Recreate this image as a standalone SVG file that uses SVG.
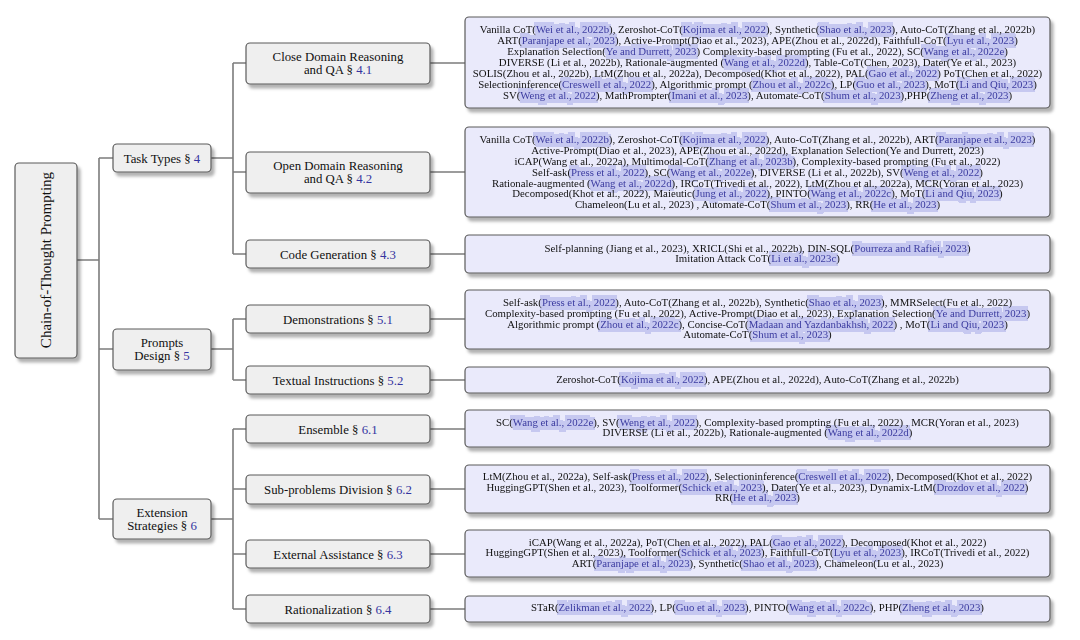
<svg xmlns="http://www.w3.org/2000/svg" width="1080" height="640" viewBox="0 0 1080 640">
<style>
.lv{fill:#efefef;stroke:#5a5a5a;stroke-width:1.2}
.lf{fill:#eaeafb;stroke:#5a5a5a;stroke-width:1.2}
.cn{stroke:#7c7c7c;stroke-width:1.6;fill:none}
.t{font-family:"Liberation Serif","Times New Roman",serif;fill:#111;text-anchor:middle}
.t0{font-size:15px}
.t1{font-size:12.8px}
.t2{font-size:12.8px}
.tl{font-size:10.8px}
.n{fill:#3434a0}
.c{fill:#3c3ca0}
</style>
<defs>
<filter id="sh" x="-10%" y="-10%" width="130%" height="140%">
<feDropShadow dx="3" dy="4" stdDeviation="1.4" flood-color="#000" flood-opacity="0.3"/>
</filter>
<filter id="hl" filterUnits="userSpaceOnUse" x="0" y="0" width="1080" height="640" color-interpolation-filters="sRGB">
<feColorMatrix in="SourceGraphic" type="matrix" values="0 0 0 0 0 0 0 0 0 0 0 0 0 0 0 -6 0 6 0 0" result="m"/>
<feMorphology in="m" operator="dilate" radius="2 3.5" result="d"/>
<feFlood flood-color="#c6c8f0"/>
<feComposite in2="d" operator="in" result="bg"/>
<feMerge><feMergeNode in="bg"/><feMergeNode in="SourceGraphic"/></feMerge>
</filter>
</defs>
<rect width="1080" height="640" fill="#fff"/>

<g id="connectors">
<path class="cn" d="M77 260H99M99 158V519M99 158H113M99 349H113M99 519H113"/>
<path class="cn" d="M211 158H233M233 63V254M233 63H246M233 172H246M233 254H246"/>
<path class="cn" d="M211 349H233M233 319V380M233 319H246M233 380H246"/>
<path class="cn" d="M211 519H233M233 429V609M233 429H246M233 489H246M233 554H246M233 609H246"/>
<path class="cn" d="M430 63H465M430 172H465M430 254H465M430 319H465M430 380H465M430 429H465M430 489H465M430 554H465M430 609H465"/>
</g>

<g id="root">
<rect class="lv" x="15" y="163" width="62" height="195" rx="4" filter="url(#sh)"/>
<text class="t t0" transform="translate(51,260) rotate(-90)" x="0" y="0">Chain-of-Thought Prompting</text>
</g>

<g id="task-types">
<rect class="lv" x="113" y="144" width="98" height="28" rx="4" filter="url(#sh)"/>
<text class="t t1" x="162" y="162.5">Task Types § <tspan class="n">4</tspan></text>
</g>
<g id="prompts-design">
<rect class="lv" x="113" y="329" width="98" height="41" rx="4" filter="url(#sh)"/>
<text class="t t1" x="162" y="346.5">Prompts</text>
<text class="t t1" x="162" y="359.5">Design § <tspan class="n">5</tspan></text>
</g>
<g id="extension-strategies">
<rect class="lv" x="113" y="499" width="98" height="40" rx="4" filter="url(#sh)"/>
<text class="t t1" x="162" y="516.5">Extension</text>
<text class="t t1" x="162" y="529.5">Strategies § <tspan class="n">6</tspan></text>
</g>

<g id="close-domain">
<rect class="lv" x="246" y="43" width="184" height="41" rx="4" filter="url(#sh)"/>
<text class="t t2" x="338" y="60.5">Close Domain Reasoning</text>
<text class="t t2" x="338" y="73.5">and QA § <tspan class="n">4.1</tspan></text>
</g>
<g id="open-domain">
<rect class="lv" x="246" y="152" width="184" height="41" rx="4" filter="url(#sh)"/>
<text class="t t2" x="338" y="169.5">Open Domain Reasoning</text>
<text class="t t2" x="338" y="182.5">and QA § <tspan class="n">4.2</tspan></text>
</g>
<g id="code-generation">
<rect class="lv" x="246" y="240" width="184" height="28" rx="4" filter="url(#sh)"/>
<text class="t t2" x="338" y="258.5">Code Generation § <tspan class="n">4.3</tspan></text>
</g>
<g id="demonstrations">
<rect class="lv" x="246" y="305" width="184" height="28" rx="4" filter="url(#sh)"/>
<text class="t t2" x="338" y="323.5">Demonstrations § <tspan class="n">5.1</tspan></text>
</g>
<g id="textual-instructions">
<rect class="lv" x="246" y="366" width="184" height="28" rx="4" filter="url(#sh)"/>
<text class="t t2" x="338" y="384.5">Textual Instructions § <tspan class="n">5.2</tspan></text>
</g>
<g id="ensemble">
<rect class="lv" x="246" y="415" width="184" height="28" rx="4" filter="url(#sh)"/>
<text class="t t2" x="338" y="433.5">Ensemble § <tspan class="n">6.1</tspan></text>
</g>
<g id="sub-problems">
<rect class="lv" x="246" y="475" width="184" height="29" rx="4" filter="url(#sh)"/>
<text class="t t2" x="338" y="493.5">Sub-problems Division § <tspan class="n">6.2</tspan></text>
</g>
<g id="external-assistance">
<rect class="lv" x="246" y="540" width="184" height="28" rx="4" filter="url(#sh)"/>
<text class="t t2" x="338" y="558.5">External Assistance § <tspan class="n">6.3</tspan></text>
</g>
<g id="rationalization">
<rect class="lv" x="246" y="595" width="184" height="28" rx="4" filter="url(#sh)"/>
<text class="t t2" x="338" y="613.5">Rationalization § <tspan class="n">6.4</tspan></text>
</g>

<g id="leaf-close-domain">
<rect class="lf" x="465" y="17" width="585" height="91" rx="4" filter="url(#sh)"/>
<g filter="url(#hl)">
<text class="t tl" x="757.5" y="33.4">Vanilla CoT(<tspan class="c">Wei et al., 2022b</tspan>), Zeroshot-CoT(<tspan class="c">Kojima et al., 2022</tspan>), Synthetic(<tspan class="c">Shao et al., 2023</tspan>), Auto-CoT(Zhang et al., 2022b)</text>
<text class="t tl" x="757.5" y="44.3">ART(<tspan class="c">Paranjape et al., 2023</tspan>), Active-Prompt(Diao et al., 2023), APE(Zhou et al., 2022d), Faithfull-CoT(<tspan class="c">Lyu et al., 2023</tspan>)</text>
<text class="t tl" x="757.5" y="55.2">Explanation Selection(<tspan class="c">Ye and Durrett, 2023</tspan>) Complexity-based prompting (Fu et al., 2022), SC(<tspan class="c">Wang et al., 2022e</tspan>)</text>
<text class="t tl" x="757.5" y="66.1">DIVERSE (Li et al., 2022b), Rationale-augmented (<tspan class="c">Wang et al., 2022d</tspan>), Table-CoT(Chen, 2023), Dater(Ye et al., 2023)</text>
<text class="t tl" x="757.5" y="77">SOLIS(Zhou et al., 2022b), LtM(Zhou et al., 2022a), Decomposed(Khot et al., 2022), PAL(<tspan class="c">Gao et al., 2022</tspan>) PoT(Chen et al., 2022)</text>
<text class="t tl" x="757.5" y="87.9">Selectioninference(<tspan class="c">Creswell et al., 2022</tspan>), Algorithmic prompt (<tspan class="c">Zhou et al., 2022c</tspan>), LP(<tspan class="c">Guo et al., 2023</tspan>), MoT(<tspan class="c">Li and Qiu, 2023</tspan>)</text>
<text class="t tl" x="757.5" y="98.8">SV(<tspan class="c">Weng et al., 2022</tspan>), MathPrompter(<tspan class="c">Imani et al., 2023</tspan>), Automate-CoT(<tspan class="c">Shum et al., 2023</tspan>),PHP(<tspan class="c">Zheng et al., 2023</tspan>)</text>
</g>
</g>

<g id="leaf-open-domain">
<rect class="lf" x="465" y="127" width="585" height="90" rx="4" filter="url(#sh)"/>
<g filter="url(#hl)">
<text class="t tl" x="757.5" y="142.9">Vanilla CoT(<tspan class="c">Wei et al., 2022b</tspan>), Zeroshot-CoT(<tspan class="c">Kojima et al., 2022</tspan>), Auto-CoT(Zhang et al., 2022b), ART(<tspan class="c">Paranjape et al., 2023</tspan>)</text>
<text class="t tl" x="757.5" y="153.8">Active-Prompt(Diao et al., 2023), APE(Zhou et al., 2022d), Explanation Selection(Ye and Durrett, 2023)</text>
<text class="t tl" x="757.5" y="164.7">iCAP(Wang et al., 2022a), Multimodal-CoT(<tspan class="c">Zhang et al., 2023b</tspan>), Complexity-based prompting (Fu et al., 2022)</text>
<text class="t tl" x="757.5" y="175.6">Self-ask(<tspan class="c">Press et al., 2022</tspan>), SC(<tspan class="c">Wang et al., 2022e</tspan>), DIVERSE (Li et al., 2022b), SV(<tspan class="c">Weng et al., 2022</tspan>)</text>
<text class="t tl" x="757.5" y="186.5">Rationale-augmented (<tspan class="c">Wang et al., 2022d</tspan>), IRCoT(Trivedi et al., 2022), LtM(Zhou et al., 2022a), MCR(Yoran et al., 2023)</text>
<text class="t tl" x="757.5" y="197.4">Decomposed(Khot et al., 2022), Maieutic(<tspan class="c">Jung et al., 2022</tspan>), PINTO(<tspan class="c">Wang et al., 2022c</tspan>), MoT(<tspan class="c">Li and Qiu, 2023</tspan>)</text>
<text class="t tl" x="757.5" y="208.3">Chameleon(Lu et al., 2023) , Automate-CoT(<tspan class="c">Shum et al., 2023</tspan>), RR(<tspan class="c">He et al., 2023</tspan>)</text>
</g>
</g>

<g id="leaf-code-generation">
<rect class="lf" x="465" y="235" width="585" height="38" rx="4" filter="url(#sh)"/>
<g filter="url(#hl)">
<text class="t tl" x="757.5" y="251.5">Self-planning (Jiang et al., 2023), XRICL(Shi et al., 2022b), DIN-SQL(<tspan class="c">Pourreza and Rafiei, 2023</tspan>)</text>
<text class="t tl" x="757.5" y="262.3">Imitation Attack CoT(<tspan class="c">Li et al., 2023c</tspan>)</text>
</g>
</g>

<g id="leaf-demonstrations">
<rect class="lf" x="465" y="290" width="585" height="59" rx="4" filter="url(#sh)"/>
<g filter="url(#hl)">
<text class="t tl" x="757.5" y="306">Self-ask(<tspan class="c">Press et al., 2022</tspan>), Auto-CoT(Zhang et al., 2022b), Synthetic(<tspan class="c">Shao et al., 2023</tspan>), MMRSelect(Fu et al., 2022)</text>
<text class="t tl" x="757.5" y="316.8">Complexity-based prompting (Fu et al., 2022), Active-Prompt(Diao et al., 2023), Explanation Selection(<tspan class="c">Ye and Durrett, 2023</tspan>)</text>
<text class="t tl" x="757.5" y="327.5">Algorithmic prompt (<tspan class="c">Zhou et al., 2022c</tspan>), Concise-CoT(<tspan class="c">Madaan and Yazdanbakhsh, 2022</tspan>) , MoT(<tspan class="c">Li and Qiu, 2023</tspan>)</text>
<text class="t tl" x="757.5" y="338.2">Automate-CoT(<tspan class="c">Shum et al., 2023</tspan>)</text>
</g>
</g>

<g id="leaf-textual-instructions">
<rect class="lf" x="465" y="367" width="585" height="26" rx="4" filter="url(#sh)"/>
<g filter="url(#hl)">
<text class="t tl" x="757.5" y="382.6">Zeroshot-CoT(<tspan class="c">Kojima et al., 2022</tspan>), APE(Zhou et al., 2022d), Auto-CoT(Zhang et al., 2022b)</text>
</g>
</g>

<g id="leaf-ensemble">
<rect class="lf" x="465" y="410" width="585" height="37" rx="4" filter="url(#sh)"/>
<g filter="url(#hl)">
<text class="t tl" x="757.5" y="425.6">SC(<tspan class="c">Wang et al., 2022e</tspan>), SV(<tspan class="c">Weng et al., 2022</tspan>), Complexity-based prompting (Fu et al., 2022) , MCR(Yoran et al., 2023)</text>
<text class="t tl" x="757.5" y="436.3">DIVERSE (Li et al., 2022b), Rationale-augmented (<tspan class="c">Wang et al., 2022d</tspan>)</text>
</g>
</g>

<g id="leaf-sub-problems">
<rect class="lf" x="465" y="465" width="585" height="48" rx="4" filter="url(#sh)"/>
<g filter="url(#hl)">
<text class="t tl" x="757.5" y="480">LtM(Zhou et al., 2022a), Self-ask(<tspan class="c">Press et al., 2022</tspan>), Selectioninference(<tspan class="c">Creswell et al., 2022</tspan>), Decomposed(Khot et al., 2022)</text>
<text class="t tl" x="757.5" y="490.7">HuggingGPT(Shen et al., 2023), Toolformer(<tspan class="c">Schick et al., 2023</tspan>), Dater(Ye et al., 2023), Dynamix-LtM(<tspan class="c">Drozdov et al., 2022</tspan>)</text>
<text class="t tl" x="757.5" y="501.4">RR(<tspan class="c">He et al., 2023</tspan>)</text>
</g>
</g>

<g id="leaf-external-assistance">
<rect class="lf" x="465" y="530" width="585" height="47" rx="4" filter="url(#sh)"/>
<g filter="url(#hl)">
<text class="t tl" x="757.5" y="545.6">iCAP(Wang et al., 2022a), PoT(Chen et al., 2022), PAL(<tspan class="c">Gao et al., 2022</tspan>), Decomposed(Khot et al., 2022)</text>
<text class="t tl" x="757.5" y="556.2">HuggingGPT(Shen et al., 2023), Toolformer(<tspan class="c">Schick et al., 2023</tspan>), Faithfull-CoT(<tspan class="c">Lyu et al., 2023</tspan>), IRCoT(Trivedi et al., 2022)</text>
<text class="t tl" x="757.5" y="566.8">ART(<tspan class="c">Paranjape et al., 2023</tspan>), Synthetic(<tspan class="c">Shao et al., 2023</tspan>), Chameleon(Lu et al., 2023)</text>
</g>
</g>

<g id="leaf-rationalization">
<rect class="lf" x="465" y="596" width="585" height="26" rx="4" filter="url(#sh)"/>
<g filter="url(#hl)">
<text class="t tl" x="757.5" y="610.6">STaR(<tspan class="c">Zelikman et al., 2022</tspan>), LP(<tspan class="c">Guo et al., 2023</tspan>), PINTO(<tspan class="c">Wang et al., 2022c</tspan>), PHP(<tspan class="c">Zheng et al., 2023</tspan>)</text>
</g>
</g>
</svg>
